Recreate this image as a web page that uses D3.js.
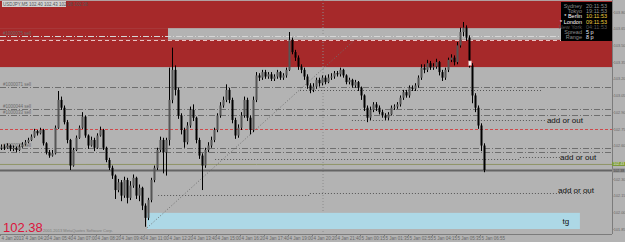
<html>
<head>
<script src="https://d3js.org/d3.v7.min.js"></script>
<style>
    body { margin: 0; background: #b3b3b3; }
    svg { display: block; font-family: "Liberation Sans", Arial, sans-serif; }
</style>
</head>
<body>
<svg width=625 height=242></svg>
<script>
// USDJPY M5 bars: open of each bar = close of previous one
const firstOpen = 102.58;
const closes = [102.59,102.58,102.60,102.57,102.58,102.56,102.59,102.61,102.63,102.65,
    102.68,102.73,102.71,102.74,102.62,102.54,102.51,102.53,102.76,103.01,
    102.94,102.81,102.65,102.42,102.56,102.67,102.76,102.86,102.69,102.60,
    102.65,102.58,102.69,102.74,102.58,102.47,102.40,102.33,102.20,102.27,
    102.15,102.29,102.13,102.24,102.31,102.15,102.22,102.06,101.95,102.11,
    102.29,102.40,102.56,102.65,102.54,102.65,103.01,103.28,103.10,102.87,
    102.74,102.63,102.78,102.92,102.85,102.65,102.51,102.42,102.56,102.60,
    102.65,102.74,102.87,102.96,103.01,103.10,103.01,102.83,102.69,102.76,
    102.87,103.01,102.85,102.74,103.01,103.23,103.21,103.26,103.22,103.24,
    103.20,103.22,103.26,103.21,103.23,103.28,103.55,103.44,103.39,103.31,
    103.28,103.22,103.14,103.10,103.13,103.19,103.16,103.21,103.17,103.21,
    103.22,103.25,103.24,103.28,103.23,103.17,103.19,103.14,103.17,103.12,
    103.05,102.94,102.85,102.92,102.97,102.94,102.90,102.87,102.85,102.88,
    102.94,102.95,102.97,103.03,103.08,103.05,103.12,103.11,103.14,103.21,
    103.30,103.28,103.34,103.30,103.31,103.35,103.26,103.21,103.28,103.37,
    103.39,103.35,103.50,103.62,103.66,103.57,103.32,103.05,102.94,102.78,
    102.60,102.38];
const highs = [102.61,102.61,102.62,102.61,102.60,102.59,102.61,102.63,102.65,102.67,
    102.70,102.75,102.74,102.76,102.75,102.63,102.56,102.56,102.78,103.09,
    103.04,102.96,102.83,102.66,102.58,102.69,102.78,102.90,102.87,102.70,
    102.68,102.67,102.71,102.77,102.75,102.59,102.49,102.42,102.34,102.30,
    102.29,102.32,102.31,102.28,102.34,102.32,102.25,102.23,102.08,102.13,
    102.31,102.42,102.58,102.68,102.67,102.67,103.30,103.48,103.32,103.12,
    102.89,102.76,102.81,102.95,102.97,102.86,102.67,102.53,102.58,102.63,
    102.68,102.76,102.89,102.99,103.04,103.15,103.12,103.03,102.85,102.79,
    102.90,103.04,103.03,102.87,103.04,103.26,103.25,103.28,103.28,103.26,
    103.26,103.24,103.28,103.27,103.25,103.30,103.62,103.57,103.46,103.41,
    103.33,103.30,103.24,103.16,103.16,103.21,103.21,103.23,103.23,103.24,
    103.25,103.27,103.27,103.30,103.29,103.24,103.21,103.20,103.19,103.18,
    103.13,103.06,102.96,102.95,102.99,102.99,102.96,102.92,102.89,102.90,
    102.96,102.97,102.99,103.05,103.10,103.10,103.14,103.14,103.16,103.23,
    103.33,103.33,103.37,103.36,103.34,103.38,103.36,103.28,103.30,103.39,
    103.42,103.41,103.53,103.66,103.71,103.68,103.59,103.34,103.07,102.96,
    102.80,102.62];
const lows = [102.56,102.56,102.57,102.55,102.55,102.54,102.55,102.58,102.60,102.62,
    102.64,102.67,102.69,102.70,102.60,102.52,102.49,102.50,102.52,102.75,
    102.92,102.79,102.62,102.38,102.41,102.55,102.66,102.75,102.67,102.57,
    102.59,102.55,102.57,102.68,102.56,102.45,102.38,102.30,102.12,102.18,
    102.10,102.13,102.08,102.11,102.22,102.12,102.10,102.02,101.87,101.93,
    102.09,102.27,102.38,102.54,102.35,102.33,102.60,102.98,103.05,102.84,
    102.70,102.58,102.61,102.76,102.82,102.62,102.48,102.20,102.40,102.54,
    102.58,102.63,102.72,102.85,102.94,102.99,102.98,102.80,102.66,102.67,
    102.74,102.85,102.82,102.70,102.72,102.99,103.18,103.19,103.20,103.20,
    103.18,103.18,103.20,103.19,103.19,103.21,103.27,103.42,103.36,103.28,
    103.25,103.19,103.11,103.07,103.08,103.11,103.13,103.14,103.15,103.16,
    103.19,103.20,103.22,103.22,103.21,103.15,103.15,103.12,103.12,103.09,
    103.01,102.91,102.81,102.83,102.90,102.91,102.88,102.85,102.83,102.83,
    102.87,102.92,102.93,102.95,103.01,103.03,103.03,103.09,103.09,103.12,
    103.19,103.25,103.26,103.28,103.28,103.29,103.23,103.18,103.19,103.26,
    103.35,103.32,103.33,103.48,103.58,103.54,103.30,102.98,102.90,102.75,
    102.55,102.36];

// price axis and time axis (102.45 sits under the ask tag)
const priceTicks = [103.80,103.65,103.50,103.35,103.20,103.05,102.90,102.75,102.60,102.30,102.15,102.00,101.85];
const timeTicks = [0,8,16,24,32,40,48,56,64,72,80,88,96,104,112,120,128,136,144,152,160];
const timeLabels = ["4 Jan 2013","4 Jan 04:20","4 Jan 05:40","4 Jan 07:00","4 Jan 08:20","4 Jan 09:40",
    "4 Jan 11:00","4 Jan 12:20","4 Jan 13:40","4 Jan 15:00","4 Jan 16:20","4 Jan 17:40","4 Jan 19:00",
    "4 Jan 20:20","4 Jan 21:40","5 Jan 00:15","5 Jan 01:35","5 Jan 02:55","5 Jan 04:15","5 Jan 05:35","5 Jan 06:55"];

// supply zones [fromBar, toBar, top, bottom]
const zoneFrom = [0, 0, 0];
const zoneTo = [204, 56, 204];
const zoneTop = [103.90, 103.655, 103.55];
const zoneBottom = [103.655, 103.55, 103.305];

// pending sell orders
const orderPrices = [103.58, 103.13, 102.93, 102.875, 102.58, 102.54];
const orderLabels = ["#1000075 sell", "#1000071 sell", "#1000044 sell", "#1000033 sell", "#1000025 sell", ""];
const stopPrice = 102.75;
const tpPrice = 103.55;
const bid = 102.38;
const ask = 102.43;

// hand drawn levels [fromBar, toBar, price]
const levelFrom = [100, 117.3, 71.7, 173.3, 52.7, 103.3];
const levelTo = [180.7, 181.7, 173.3, 186.7, 103.3, 196.7];
const levelPrice = [103.10, 102.83, 102.48, 102.50, 102.155, 102.175];
const noteText = ["add or out", "add or out", "add or out"];
const noteBar = [182.3, 186.7, 186];
const notePrice = [102.83, 102.50, 102.20];

// target box and trendline
const boxFrom = 49, boxTo = 193.3, boxTop = 101.995, boxBottom = 101.85;
const trendBars = [49, 118.3];
const trendPrices = [101.86, 103.55];
const daySplit = 107.67;

// clock panel
const clockNames = ["Sydney", "Tokyo", "* Berlin", "* London", "New York", "Spread", "Range"];
const clockValues = ["20:11:53", "19:11:53", "10:11:53", "09:11:53", "04:11:53", "5 p", "8 p"];

const plotW = 612, plotB = 234;
const x = d3.scaleLinear().domain([0, 204]).range([0, plotW]);
const y = d3.scaleLinear().domain([101.85, 103.80]).range([229, 12]);
const svg = d3.select("svg");

svg.append("rect").attr("width", 625).attr("height", 242).attr("fill", "#b3b3b3");

// red zones
svg.append("g").selectAll("rect")
    .data(zoneTop)
    .enter()
    .append("rect")
    .attr("x", (d,i) => x(zoneFrom[i]))
    .attr("y", d => y(d))
    .attr("width", (d,i) => x(zoneTo[i]) - x(zoneFrom[i]))
    .attr("height", (d,i) => y(zoneBottom[i]) - y(d))
    .attr("fill", "#a6292a");

// day separator
svg.append("line")
    .attr("x1", x(daySplit)).attr("x2", x(daySplit))
    .attr("y1", 0).attr("y2", plotB)
    .attr("stroke", "#8c8c8c").attr("stroke-dasharray", "1,2");

// target box
svg.append("rect")
    .attr("x", x(boxFrom)).attr("y", y(boxTop))
    .attr("width", x(boxTo) - x(boxFrom))
    .attr("height", y(boxBottom) - y(boxTop))
    .attr("fill", "#add8e6");

// order lines
svg.append("g").selectAll("line")
    .data(orderPrices)
    .enter()
    .append("line")
    .attr("x1", 0).attr("x2", plotW)
    .attr("y1", d => Math.round(y(d)) + 0.5).attr("y2", d => Math.round(y(d)) + 0.5)
    .attr("stroke", (d,i) => i == 0 ? "#d6d6d6" : "#6e6e6e")
    .attr("stroke-dasharray", "6,2,1,2");

svg.append("g").selectAll("text")
    .data(orderLabels)
    .enter()
    .append("text")
    .attr("x", 3)
    .attr("y", (d,i) => y(orderPrices[i]) - 1)
    .style("font-size", "4.5px")
    .attr("fill", "#6a6a6a")
    .text(d => d);

// tp and stop lines
svg.append("line")
    .attr("x1", 0).attr("x2", plotW)
    .attr("y1", Math.round(y(tpPrice)) + 0.5).attr("y2", Math.round(y(tpPrice)) + 0.5)
    .attr("stroke", "#e9c4c4").attr("stroke-dasharray", "4,3");
svg.append("line")
    .attr("x1", 0).attr("x2", plotW)
    .attr("y1", Math.round(y(stopPrice)) + 0.5).attr("y2", Math.round(y(stopPrice)) + 0.5)
    .attr("stroke", "#d0494b").attr("stroke-dasharray", "3,2");

// bid / ask
svg.append("line")
    .attr("x1", 0).attr("x2", plotW)
    .attr("y1", y(ask)).attr("y2", y(ask))
    .attr("stroke", "#8f9466");
svg.append("line")
    .attr("x1", 0).attr("x2", plotW)
    .attr("y1", y(bid) + 0.5).attr("y2", y(bid) + 0.5)
    .attr("stroke", "#646464").attr("stroke-width", 2);

// dotted levels
svg.append("g").selectAll("line")
    .data(levelPrice)
    .enter()
    .append("line")
    .attr("x1", (d,i) => x(levelFrom[i])).attr("x2", (d,i) => x(levelTo[i]))
    .attr("y1", d => Math.round(y(d)) + 0.5).attr("y2", d => Math.round(y(d)) + 0.5)
    .attr("stroke", "#555").attr("stroke-dasharray", "1,2");

// trendline
svg.append("line")
    .attr("x1", x(trendBars[0])).attr("y1", y(trendPrices[0]))
    .attr("x2", x(trendBars[1])).attr("y2", y(trendPrices[1]))
    .attr("stroke", "#6f6f6f").attr("stroke-dasharray", "1,2");

// candles
const bars = closes.map(function(c,i) {
    return {o: i == 0 ? firstOpen : closes[i-1], c: c, h: highs[i], l: lows[i], i: i};
});
const cg = svg.append("g");
cg.selectAll("line")
    .data(bars)
    .enter()
    .append("line")
    .attr("x1", d => x(d.i + 0.5)).attr("x2", d => x(d.i + 0.5))
    .attr("y1", d => y(d.h)).attr("y2", d => y(d.l))
    .attr("stroke", "#000").attr("stroke-width", 1);
cg.selectAll("rect")
    .data(bars)
    .enter()
    .append("rect")
    .attr("x", d => x(d.i + 0.5) - 1)
    .attr("y", d => y(Math.max(d.o, d.c)))
    .attr("width", 2)
    .attr("height", d => Math.max(1, Math.abs(y(d.o) - y(d.c))))
    .attr("fill", d => d.c >= d.o ? "#555" : "#000");

// trade marker
svg.append("rect")
    .attr("x", x(156) + 0.5).attr("y", y(103.36))
    .attr("width", 3).attr("height", y(103.32) - y(103.36))
    .attr("fill", "#f4f4f4").attr("stroke", "#e58a8a").attr("stroke-width", 0.6);

// notes
svg.append("g").selectAll("text")
    .data(noteText)
    .enter()
    .append("text")
    .attr("x", (d,i) => x(noteBar[i]))
    .attr("y", (d,i) => y(notePrice[i]) + 3)
    .style("font-size", "8px")
    .attr("fill", "#111")
    .text(d => d);
svg.append("text")
    .attr("x", x(187.5)).attr("y", y(101.925) + 3)
    .style("font-size", "8px").attr("fill", "#111")
    .text("tg");

// top-left caption
svg.append("rect").attr("x", 2).attr("y", 1).attr("width", 64).attr("height", 6).attr("fill", "#d2d2d2");
svg.append("text").attr("x", 3).attr("y", 5.5)
    .style("font-size", "4.5px").attr("fill", "#555")
    .text("USDJPY,M5  102.40 102.43 102.38 102.38");

// last price
svg.append("text")
    .attr("x", 3).attr("y", 232)
    .style("font-size", "13px")
    .attr("fill", "#dc143c")
    .text(bid.toFixed(2));
svg.append("text")
    .attr("x", 39).attr("y", 232)
    .style("font-size", "4px").attr("fill", "#7a7a7a")
    .text("\u00a9 2001-2013 MetaQuotes Software Corp.");

// axes
svg.append("g")
    .attr("transform", "translate(" + plotW + ",0)")
    .call(d3.axisRight(y).tickValues(priceTicks).tickFormat(d3.format(".2f")).tickSize(1.5).tickSizeOuter(0))
    .call(g => g.select(".domain").attr("stroke", "#7c7c7c").attr("d", "M0.5,0V" + plotB))
    .call(g => g.selectAll("line").attr("stroke", "#7c7c7c"))
    .call(g => g.selectAll("text").attr("x", 1.8).style("font-size", "3.8px").attr("fill", "#666").attr("font-family", null));

svg.append("g")
    .attr("transform", "translate(0," + plotB + ")")
    .call(d3.axisBottom(x).tickValues(timeTicks).tickFormat((d,i) => timeLabels[i]).tickSize(2).tickSizeOuter(0))
    .call(g => g.select(".domain").attr("stroke", "#7c7c7c").attr("d", "M0," + 0.5 + "H" + plotW))
    .call(g => g.selectAll("line").attr("stroke", "#7c7c7c"))
    .call(g => g.selectAll("text").attr("text-anchor", "start").attr("dx", 1).attr("y", 3)
        .style("font-size", "4.5px").attr("fill", "#666").attr("font-family", null));

// bid/ask tags on the price axis
svg.append("rect").attr("x", plotW).attr("y", y(ask) - 2.5).attr("width", 13).attr("height", 4).attr("fill", "#7b9a34");
svg.append("text").attr("x", plotW + 1.2).attr("y", y(ask) + 1)
    .style("font-size", "3.6px").attr("fill", "#e8e8e8").text(ask.toFixed(2));
svg.append("rect").attr("x", plotW).attr("y", y(bid) - 1.5).attr("width", 13).attr("height", 4).attr("fill", "#8a8a8a");
svg.append("text").attr("x", plotW + 1.2).attr("y", y(bid) + 2)
    .style("font-size", "3.6px").attr("fill", "#444").text(bid.toFixed(2));

// clock panel
svg.append("rect").attr("x", 561).attr("y", 2).attr("width", 51).attr("height", 39).attr("fill", "#000");
const nameCol = ["#8c8c8c", "#8c8c8c", "#ffffff", "#ffffff", "#555555", "#8c8c8c", "#8c8c8c"];
const valueCol = ["#8c8c8c", "#8c8c8c", "#f0d040", "#f0d040", "#555555", "#e8e8f8", "#e8e8f8"];
svg.append("g").selectAll("text")
    .data(clockNames)
    .enter()
    .append("text")
    .attr("x", 582).attr("y", (d,i) => 8 + i * 5.2)
    .attr("text-anchor", "end")
    .style("font-size", "5.5px")
    .attr("fill", (d,i) => nameCol[i])
    .text(d => d);
svg.append("g").selectAll("text")
    .data(clockValues)
    .enter()
    .append("text")
    .attr("x", 586).attr("y", (d,i) => 8 + i * 5.2)
    .style("font-size", "5.5px")
    .attr("fill", (d,i) => valueCol[i])
    .text(d => d);
</script>
</body>
</html>
